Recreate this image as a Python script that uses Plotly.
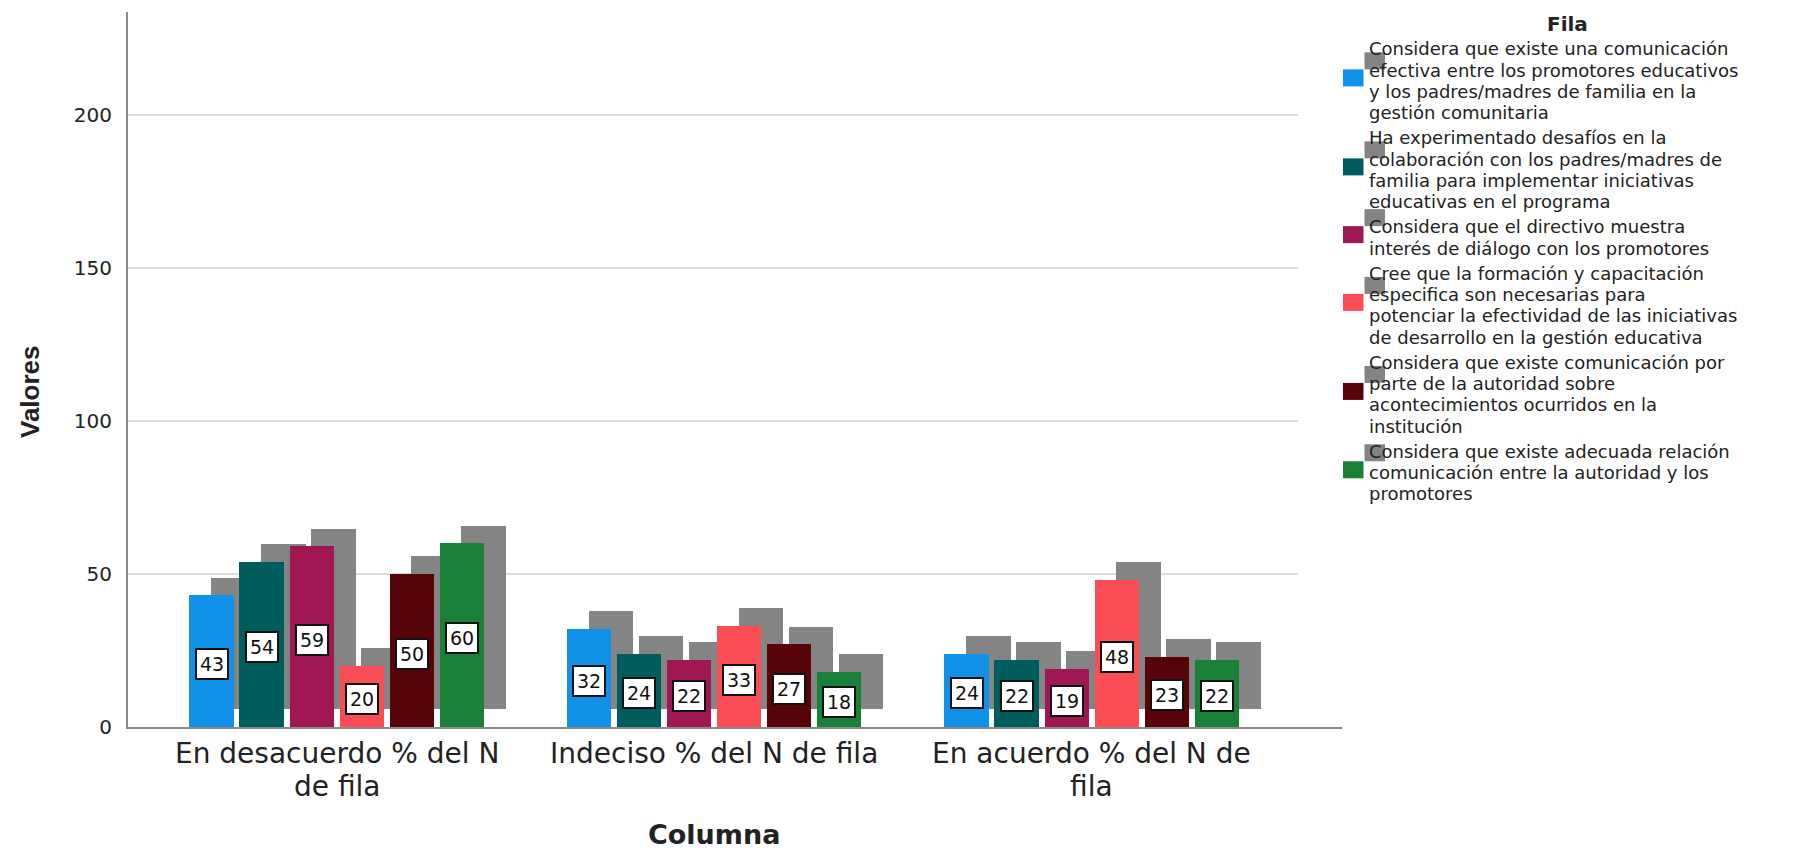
import plotly.graph_objects as go

# ---- data -------------------------------------------------------------
categories = [
    "En desacuerdo % del N de fila",
    "Indeciso % del N de fila",
    "En acuerdo % del N de fila",
]
# tick label lines for each category
category_lines = [
    ["En desacuerdo % del N", "de fila"],
    ["Indeciso % del N de fila"],
    ["En acuerdo % del N de", "fila"],
]

series_names = [
    "Considera que existe una comunicación efectiva entre los promotores educativos y los padres/madres de familia en la gestión comunitaria",
    "Ha experimentado desafíos en la colaboración con los padres/madres de familia para implementar iniciativas educativas en el programa",
    "Considera que el directivo muestra interés de diálogo con los promotores",
    "Cree que la formación y capacitación especifica son necesarias para potenciar la efectividad de las iniciativas de desarrollo en la gestión educativa",
    "Considera que existe comunicación por parte de la autoridad sobre acontecimientos ocurridos en la institución",
    "Considera que existe adecuada relación comunicación entre la autoridad y los promotores",
]
legend_lines = [
    ["Considera que existe una comunicación",
     "efectiva entre los promotores educativos",
     "y los padres/madres de familia en la",
     "gestión comunitaria"],
    ["Ha experimentado desafíos en la",
     "colaboración con los padres/madres de",
     "familia para implementar iniciativas",
     "educativas en el programa"],
    ["Considera que el directivo muestra",
     "interés de diálogo con los promotores"],
    ["Cree que la formación y capacitación",
     "especifica son necesarias para",
     "potenciar la efectividad de las iniciativas",
     "de desarrollo en la gestión educativa"],
    ["Considera que existe comunicación por",
     "parte de la autoridad sobre",
     "acontecimientos ocurridos en la",
     "institución"],
    ["Considera que existe adecuada relación",
     "comunicación entre la autoridad y los",
     "promotores"],
]

s1_comunicacion_efectiva = [43, 32, 24]
s2_desafios_colaboracion = [54, 24, 22]
s3_directivo_dialogo = [59, 22, 19]
s4_formacion_capacitacion = [20, 33, 48]
s5_comunicacion_autoridad = [50, 27, 23]
s6_relacion_autoridad = [60, 18, 22]
series_values = [
    s1_comunicacion_efectiva,
    s2_desafios_colaboracion,
    s3_directivo_dialogo,
    s4_formacion_capacitacion,
    s5_comunicacion_autoridad,
    s6_relacion_autoridad,
]

y_ticks = [0, 50, 100, 150, 200]

# ---- styling ----------------------------------------------------------
colors = ["#1192e8", "#005d5d", "#9f1853", "#fa4d56", "#570408", "#198038"]
SHADOW = "#848484"
GRID = "#cfcfcf"
AXIS = "#8a8a8a"
TXT = "#222222"
FONT = "DejaVu Sans"
ASC, DESC, CAP = 0.928, 0.236, 0.729   # DejaVu Sans metrics (em)

W, H = 1796, 851
PLOT_L, PLOT_R, PLOT_T, PLOT_B = 128, 1342, 12, 727
PX_PER_UNIT = 3.06
Y_MAX = (PLOT_B - PLOT_T) / PX_PER_UNIT
X_MIN, X_MAX = -0.5528, 2.6631

SLOT = 0.1325        # spacing between bars inside a group
BAR_W = 0.1174       # bar width
DEPTH_X = 0.0575     # 3-D depth offset (x, category units)
DEPTH_Y = 5.8        # 3-D depth offset (y, value units)


def px_x(px):
    return (px - PLOT_L) / (PLOT_R - PLOT_L)


def px_y(py):
    return (PLOT_B - py) / (PLOT_B - PLOT_T)


def cap_to_top(cap_center, size):
    """Top of a DejaVu text line box whose capitals are centred on cap_center."""
    return cap_center - (ASC * size - CAP * size / 2)


fig = go.Figure()

n = len(series_values)
positions = []
for i in range(n):
    positions.append([c + (i - (n - 1) / 2) * SLOT for c in range(len(categories))])

# depth faces first, so every coloured bar sits in front of them
for i, vals in enumerate(series_values):
    fig.add_trace(go.Bar(
        x=[p + DEPTH_X for p in positions[i]], y=vals, base=DEPTH_Y,
        width=BAR_W, marker=dict(color=SHADOW, line=dict(width=0)),
        showlegend=False, hoverinfo="skip",
    ))

for i, vals in enumerate(series_values):
    fig.add_trace(go.Bar(
        x=positions[i], y=vals, width=BAR_W, name=series_names[i],
        customdata=categories,
        marker=dict(color=colors[i], line=dict(width=0)),
        hovertemplate="%{customdata}<br>%{y}<extra></extra>",
        showlegend=False,
    ))

annotations = []
shapes = []

# value labels in boxes at mid height
for i, vals in enumerate(series_values):
    for x, v in zip(positions[i], vals):
        annotations.append(dict(
            x=x, y=v / 2, xref="x", yref="y", text=str(v), showarrow=False,
            yshift=-3, font=dict(family=FONT, size=19, color="#111111"),
            bgcolor="white", bordercolor="#111111", borderwidth=2, borderpad=3,
        ))

# horizontal grid lines
for t in y_ticks[1:]:
    shapes.append(dict(
        type="line", xref="paper", yref="y", x0=0, x1=px_x(1298), y0=t, y1=t,
        line=dict(color=GRID, width=1.5), layer="below",
    ))

# category labels under the axis
CAT_SIZE = 28
CAT_PITCH = (ASC + DESC) * CAT_SIZE + 0.5
cat_cap_center = 753
for c, lines in enumerate(category_lines):
    for k, txt in enumerate(lines):
        top = cap_to_top(cat_cap_center + k * CAT_PITCH, CAT_SIZE)
        annotations.append(dict(
            x=c, y=px_y(top), xref="x", yref="paper", text=txt,
            showarrow=False, xanchor="center", yanchor="top",
            borderpad=0, borderwidth=0,
            font=dict(family=FONT, size=CAT_SIZE, color=TXT),
        ))

# axis titles
annotations.append(dict(
    x=px_x(714), y=px_y(834), xref="paper", yref="paper", text="<b>Columna</b>",
    showarrow=False, xanchor="center", yanchor="middle",
    font=dict(family=FONT, size=27, color=TXT),
))
annotations.append(dict(
    x=px_x(30), y=px_y(392), xref="paper", yref="paper", text="<b>Valores</b>",
    showarrow=False, xanchor="center", yanchor="middle", textangle=-90,
    font=dict(family="Liberation Sans", size=26, color=TXT),
))

# legend built from shapes and text
annotations.append(dict(
    x=px_x(1567), y=px_y(24), xref="paper", yref="paper", text="<b>Fila</b>",
    showarrow=False, xanchor="center", yanchor="middle",
    font=dict(family=FONT, size=20, color=TXT),
))
LEG_SIZE = 18
PITCH = (ASC + DESC) * LEG_SIZE + 0.3
ITEM_GAP = PITCH + 4
SQ_W, SQ_H = 20.5, 17
cap_y = 48.5
for i, lines in enumerate(legend_lines):
    first = cap_y
    for k, txt in enumerate(lines):
        annotations.append(dict(
            x=px_x(1369), y=px_y(cap_to_top(cap_y, LEG_SIZE)),
            xref="paper", yref="paper", text=txt, showarrow=False,
            xanchor="left", yanchor="top", borderpad=0, borderwidth=0,
            font=dict(family=FONT, size=LEG_SIZE, color=TXT),
        ))
        if k < len(lines) - 1:
            cap_y += PITCH
    mid = (first + cap_y) / 2
    cap_y += ITEM_GAP
    cy = mid - 2.5
    # depth square
    shapes.append(dict(
        type="rect", xref="paper", yref="paper",
        x0=px_x(1364.5), x1=px_x(1364.5 + SQ_W),
        y0=px_y(cy - SQ_H / 2 - 17), y1=px_y(cy + SQ_H / 2 - 17),
        fillcolor=SHADOW, line=dict(width=0), layer="above",
    ))
    # colour square
    shapes.append(dict(
        type="rect", xref="paper", yref="paper",
        x0=px_x(1343), x1=px_x(1343 + SQ_W),
        y0=px_y(cy - SQ_H / 2), y1=px_y(cy + SQ_H / 2),
        fillcolor=colors[i], line=dict(width=0), layer="above",
    ))

fig.update_layout(
    width=W, height=H,
    margin=dict(l=PLOT_L, r=W - PLOT_R, t=PLOT_T, b=H - PLOT_B, pad=0),
    paper_bgcolor="white", plot_bgcolor="white",
    barmode="overlay", bargap=0,
    showlegend=False,
    font=dict(family=FONT, color=TXT),
    xaxis=dict(range=[X_MIN, X_MAX], showgrid=False, zeroline=False,
               showticklabels=False, ticks="", showline=True,
               linecolor=AXIS, linewidth=2, fixedrange=True),
    yaxis=dict(range=[0, Y_MAX], tickvals=y_ticks, showgrid=False,
               zeroline=False, ticks="", showline=True, linecolor=AXIS,
               linewidth=2, ticklabelstandoff=10,
               tickfont=dict(family=FONT, size=20, color=TXT),
               fixedrange=True),
    annotations=annotations,
    shapes=shapes,
)

fig.write_html("out.html", config={"displayModeBar": False})
